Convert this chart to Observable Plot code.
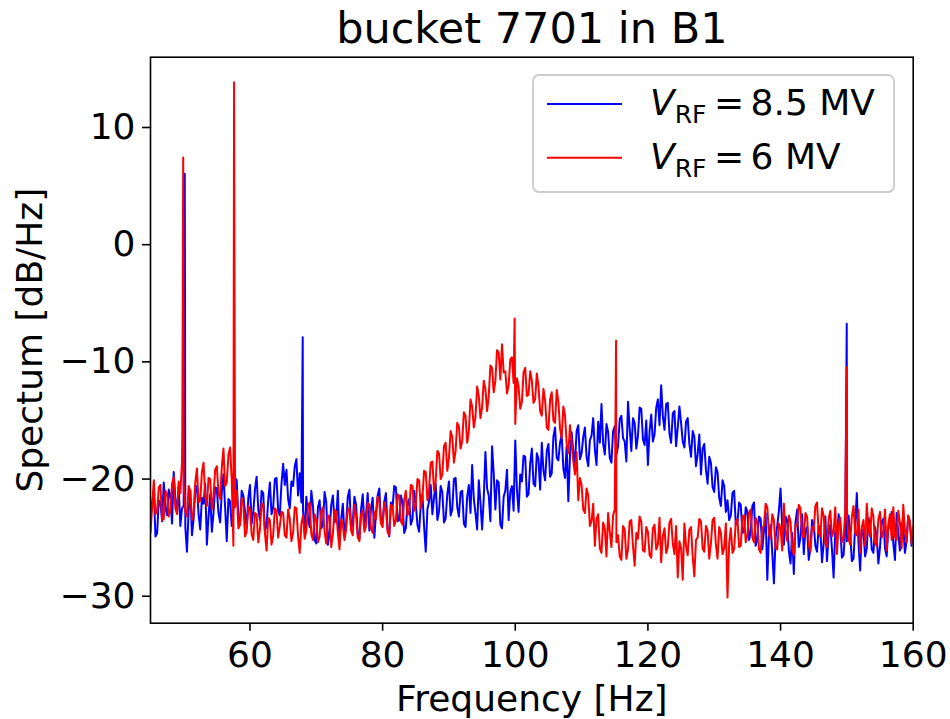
<!DOCTYPE html>
<html>
<head>
<meta charset="utf-8">
<script src="https://cdn.jsdelivr.net/npm/d3@7"></script>
<script src="https://cdn.jsdelivr.net/npm/@observablehq/plot@0.6"></script>
<style>
  html, body { margin: 0; padding: 0; background: white; }
  #chart { width: 950px; height: 719px; }
</style>
</head>
<body>
<div id="chart"></div>
<script>
// ---- data ----
const titleText = "bucket 7701 in B1";
const xLabel = "Frequency [Hz]";
const yLabel = "Spectum [dB/Hz]";
const xTicks = [60, 80, 100, 120, 140, 160];
const yTicks = [-30, -20, -10, 0, 10];
const seriesValues = ["8.5 MV", "6 MV"];
const seriesColors = ["#0000ff", "#ff0000"];

// spectrum bins: 45 Hz .. 160 Hz every 0.25 Hz (each row = 5 Hz)
const freqStart = 45;
const freqStep = 0.25;

// V_RF = 8.5 MV
const blueDb = [
  -23.5, -22.0, -21.2, -24.9, -24.6, -21.8, -22.0, -23.6, -20.3, -22.4, -23.1, -20.9, -21.5, -23.8, -19.4, -21.7, -22.8, -20.6, -24.0, -22.5,
  -22.3, -24.1, -26.2, -22.7, -21.0, -24.8, -23.4, -20.9, -20.6, -23.0, -24.3, -21.6, -22.1, -20.4, -25.6, -23.2, -21.3, -24.5, -22.9, -20.7,
  -20.8, -22.9, -23.7, -21.1, -19.6, -22.4, -25.3, -21.7, -21.9, -24.0, -22.6, -19.9, -20.1, -23.3, -23.9, -21.0, -21.4, -22.8, -24.2, -21.6,
  -20.5, -23.8, -22.8, -20.9, -19.8, -22.6, -23.5, -21.0, -21.2, -24.4, -24.0, -21.8, -20.3, -23.0, -22.4, -20.0, -19.9, -22.7, -23.1, -20.4,
  -18.7, -20.5, -19.2, -21.7, -22.5, -20.2, -20.6, -18.9, -18.3, -21.4, -19.5, -22.0, -22.7, -24.6, -21.5, -23.3, -24.1, -21.0, -22.3, -25.2,
  -25.5, -22.4, -21.8, -24.2, -23.9, -21.1, -22.0, -25.6, -24.6, -22.2, -21.4, -23.7, -23.3, -21.0, -25.4, -23.5, -22.1, -24.8, -23.8, -21.5,
  -20.9, -24.3, -23.6, -21.5, -22.2, -24.7, -25.1, -22.6, -21.3, -23.9, -23.0, -21.2, -24.4, -22.5, -21.6, -25.0, -22.9, -21.4, -20.8, -23.7,
  -23.7, -21.9, -21.2, -24.3, -24.9, -22.0, -22.4, -20.6, -20.7, -23.6, -23.5, -21.4, -22.0, -24.6, -24.2, -22.1, -21.7, -23.9, -23.4, -21.0,
  -22.1, -23.9, -24.5, -22.2, -21.3, -24.0, -26.2, -22.6, -21.9, -20.5, -23.0, -21.6, -20.4, -23.5, -22.8, -20.6, -21.1, -23.7, -23.4, -21.3,
  -20.2, -23.1, -22.6, -20.0, -19.9, -22.4, -23.2, -21.1, -21.0, -23.8, -24.1, -21.5, -20.5, -22.9, -18.8, -21.7, -22.9, -24.3, -20.1, -22.0,
  -24.3, -21.6, -17.7, -20.8, -21.4, -23.6, -17.2, -19.5, -22.6, -20.1, -20.3, -23.9, -24.2, -21.5, -21.0, -19.2, -23.5, -21.1, -20.6, -22.7,
  -16.7, -20.9, -22.8, -19.6, -20.2, -18.0, -18.1, -21.5, -21.3, -18.7, -17.4, -20.4, -20.6, -17.8, -18.3, -20.9, -16.9, -19.3, -20.1, -17.6,
  -17.0, -19.8, -19.5, -16.4, -15.6, -18.2, -18.4, -16.9, -16.2, -19.1, -19.9, -17.2, -21.9, -18.0, -16.0, -17.7, -18.6, -15.9, -15.4, -18.3,
  -17.8, -16.4, -15.6, -18.1, -18.9, -16.7, -16.3, -14.8, -17.5, -18.8, -15.1, -16.9, -13.6, -17.0, -17.9, -15.3, -16.0, -18.2, -18.6, -15.9,
  -15.5, -17.9, -17.2, -14.9, -14.6, -16.5, -16.8, -18.5, -13.4, -15.7, -17.6, -14.8, -15.2, -17.4, -16.3, -13.9, -14.0, -16.6, -17.1, -15.0,
  -18.8, -15.9, -14.5, -16.8, -16.2, -13.9, -13.2, -15.4, -12.0, -14.6, -15.8, -13.6, -13.5, -16.1, -16.9, -14.4, -14.2, -17.2, -15.6, -13.8,
  -15.2, -16.8, -17.3, -15.1, -14.8, -17.0, -18.1, -15.9, -16.4, -18.9, -17.9, -16.2, -19.6, -17.4, -17.0, -19.2, -20.4, -18.1, -18.6, -20.7,
  -21.1, -19.0, -19.4, -21.6, -22.3, -20.1, -20.6, -22.8, -21.8, -23.5, -23.1, -21.2, -21.0, -23.9, -23.7, -22.0, -22.2, -24.6, -24.5, -22.4,
  -22.8, -25.2, -24.5, -22.3, -22.0, -25.7, -25.1, -23.2, -23.4, -26.0, -24.4, -22.9, -28.6, -24.8, -23.9, -26.3, -28.9, -25.0, -24.0, -22.7,
  -20.8, -24.1, -25.6, -23.2, -23.5, -26.1, -27.2, -24.6, -28.1, -23.7, -22.6, -25.8, -25.0, -23.0, -26.4, -24.3, -24.1, -26.9, -25.9, -23.5,
  -23.8, -25.7, -26.2, -24.0, -24.3, -27.1, -25.5, -23.2, -27.0, -24.7, -23.9, -26.0, -28.4, -24.4, -25.1, -23.0, -24.0, -26.7, -26.5, -24.2,
  -25.3, -23.1, -24.6, -27.0, -26.8, -24.0, -21.2, -25.4, -27.8, -24.3, -24.5, -26.6, -25.9, -23.3, -23.7, -26.0, -26.3, -24.1, -24.9, -27.2,
  -25.8, -23.6, -23.4, -25.9, -26.6, -24.1, -24.2, -22.8, -25.5, -26.9, -22.9, -24.7, -26.1, -23.8, -24.0, -26.3, -25.3, -23.2, -23.6, -25.7,
  -25.0
];

// V_RF = 6 MV
const redDb = [
  -24.6, -22.3, -20.1, -23.0, -22.8, -20.7, -20.5, -23.5, -23.4, -21.0, -21.3, -23.2, -22.6, -20.4, -19.8, -22.5, -23.0, -20.2, -21.2, -18.5,
  -20.4, -22.8, -23.2, -20.6, -21.0, -23.5, -22.9, -20.3, -19.1, -22.0, -21.8, -19.4, -18.6, -21.5, -22.3, -19.9, -20.0, -22.6, -21.5, -19.2,
  -18.9, -21.2, -21.7, -19.0, -17.4, -20.6, -20.3, -17.9, -17.3, -20.1, -25.7, -22.4, -21.0, -24.2, -23.9, -21.6, -22.1, -24.9, -24.5, -22.3,
  -22.6, -24.7, -25.2, -22.9, -23.0, -25.4, -24.3, -22.1, -22.2, -24.6, -26.1, -23.3, -23.5, -25.6, -24.8, -22.5, -22.7, -25.0, -24.0, -22.8,
  -22.9, -24.8, -25.0, -22.6, -23.4, -25.3, -24.6, -22.4, -22.5, -24.9, -26.3, -23.8, -23.1, -25.1, -24.4, -22.3, -22.0, -24.7, -25.2, -23.0,
  -23.6, -25.4, -24.9, -22.7, -22.4, -24.5, -25.5, -23.1, -23.2, -25.8, -24.7, -22.6, -22.8, -24.6, -26.0, -23.4, -23.9, -25.2, -24.3, -22.5,
  -22.5, -24.4, -24.8, -22.2, -23.1, -25.0, -25.3, -23.0, -22.7, -24.5, -24.0, -22.0, -22.2, -24.2, -24.6, -22.8, -23.4, -21.5, -21.9, -23.8,
  -24.1, -22.0, -22.6, -24.5, -24.8, -22.2, -22.3, -24.0, -23.5, -21.3, -21.4, -23.6, -23.9, -21.8, -21.0, -23.1, -22.8, -20.5, -20.6, -22.7,
  -22.3, -20.0, -20.1, -22.5, -21.6, -19.3, -19.4, -21.8, -20.9, -18.6, -18.5, -21.0, -20.2, -17.6, -17.8, -20.0, -19.6, -17.2, -16.9, -19.3,
  -18.2, -15.9, -16.4, -18.6, -17.6, -15.2, -15.5, -17.4, -16.8, -14.3, -14.6, -16.9, -15.9, -13.2, -13.8, -15.6, -14.7, -12.1, -12.9, -14.8,
  -13.9, -11.6, -12.3, -14.2, -12.9, -10.3, -10.5, -12.6, -11.6, -9.0, -9.2, -11.5, -8.5, -10.9, -10.8, -12.7, -12.0, -9.8, -9.6, -11.8,
  -15.3, -11.4, -12.1, -14.0, -13.4, -10.9, -10.5, -12.9, -12.8, -10.8, -11.6, -13.5, -13.2, -11.0, -12.1, -14.2, -14.6, -12.3, -13.3, -15.6,
  -15.8, -13.2, -12.6, -15.0, -15.2, -12.4, -13.4, -15.7, -16.5, -13.8, -14.6, -17.0, -17.8, -15.4, -16.9, -18.5, -19.6, -17.7, -21.8, -19.9,
  -20.5, -22.6, -22.9, -20.8, -21.4, -24.0, -23.6, -22.1, -25.7, -23.4, -23.0, -25.9, -26.3, -23.7, -24.2, -26.6, -22.9, -24.5, -25.8, -23.1,
  -22.6, -25.4, -24.8, -26.6, -26.9, -24.0, -24.3, -26.8, -26.0, -23.6, -23.5, -25.7, -27.4, -24.6, -25.1, -23.2, -23.6, -26.1, -26.2, -24.1,
  -24.5, -26.5, -26.7, -24.2, -23.9, -26.0, -25.6, -23.3, -27.1, -24.9, -24.2, -26.3, -25.8, -23.7, -23.4, -25.5, -26.4, -24.0, -28.4, -25.3,
  -25.9, -28.6, -23.8, -25.7, -26.5, -24.3, -24.1, -26.6, -28.3, -25.2, -25.0, -23.4, -23.6, -25.9, -26.2, -24.0, -24.4, -26.8, -25.5, -23.5,
  -23.3, -25.6, -26.8, -24.1, -24.6, -26.4, -25.9, -23.8, -30.1, -25.5, -24.2, -26.3, -26.0, -23.6, -23.4, -25.8, -25.7, -23.2, -23.1, -25.4,
  -24.8, -22.9, -22.6, -25.0, -25.4, -23.3, -23.7, -26.0, -26.3, -24.2, -24.0, -22.1, -22.4, -24.7, -25.1, -23.0, -23.5, -25.9, -26.0, -23.8,
  -24.2, -26.1, -22.1, -24.4, -25.3, -23.1, -23.6, -25.9, -26.5, -23.9, -24.0, -22.2, -22.5, -24.8, -25.0, -22.9, -23.2, -25.6, -26.2, -24.1,
  -24.4, -22.3, -22.0, -24.6, -24.9, -22.5, -23.1, -25.5, -25.8, -23.4, -22.7, -24.9, -24.5, -22.4, -26.4, -24.0, -23.3, -25.4, -25.1, -22.8,
  -23.0, -25.1, -25.6, -23.2, -22.3, -24.6, -24.8, -22.6, -26.3, -24.1, -23.5, -25.7, -22.1, -24.3, -24.9, -22.5, -23.2, -25.5, -25.7, -23.4,
  -22.8, -25.0, -24.5, -22.6, -26.1, -23.8, -23.0, -25.2, -22.4, -24.9, -25.2, -22.7, -23.7, -25.9, -22.2, -24.3, -25.4, -23.1, -23.6, -25.5,
  -24.0
];

// narrow spectral lines (frequency in Hz, level in dB/Hz)
const blueSpikeHz = [50.17, 67.95, 149.98];
const blueSpikeDb = [6.05, -7.9, -6.75];
const redSpikeHz = [49.8, 49.93, 57.6, 99.9, 115.2, 149.98];
const redSpikeDb = [-15.6, 7.45, 13.87, -6.3, -8.2, -10.45];

// ---- build tables ----
function buildSeries(vals, spikeHz, spikeDb) {
  const rows = vals.map((v, i) => ({f: freqStart + i * freqStep, v}));
  spikeHz.forEach((f, i) => rows.push({f, v: spikeDb[i]}));
  rows.sort((a, b) => a.f - b.f);
  return rows;
}
const blueRows = buildSeries(blueDb, blueSpikeHz, blueSpikeDb);
const redRows = buildSeries(redDb, redSpikeHz, redSpikeDb);

const W = 950, H = 719;
const mL = 150, mR = 37.3, mT = 56.7, mB = 96.3;

const plot = Plot.plot({
  width: W,
  height: H,
  marginLeft: mL,
  marginRight: mR,
  marginTop: mT,
  marginBottom: mB,
  style: {fontFamily: "DejaVu Sans", fontSize: "36px", background: "white", color: "black", overflow: "visible"},
  x: {domain: [45, 160]},
  y: {domain: [-32.3, 16.0]},
  marks: [
    Plot.line(blueRows, {x: "f", y: "v", stroke: seriesColors[0], strokeWidth: 2, clip: true}),
    Plot.line(redRows, {x: "f", y: "v", stroke: seriesColors[1], strokeWidth: 2, clip: true}),
    Plot.frame({stroke: "black", strokeWidth: 1.6}),
    Plot.axisX({ticks: xTicks, tickSize: 8, tickPadding: 10, fontSize: 36, label: null, strokeWidth: 1.6}),
    Plot.axisY({ticks: yTicks, tickSize: 8, tickPadding: 7, fontSize: 36, label: null, strokeWidth: 1.6}),
    Plot.text([titleText], {frameAnchor: "top", textAnchor: "middle", lineAnchor: "middle", dy: -27.8, fontSize: 43, fill: "black"}),
    Plot.text([xLabel], {frameAnchor: "bottom", textAnchor: "middle", lineAnchor: "middle", dy: 76.3, fontSize: 36, fill: "black"}),
    Plot.text([yLabel], {frameAnchor: "left", textAnchor: "middle", lineAnchor: "middle", dx: -119.8, rotate: -90, fontSize: 36, fill: "black"})
  ]
});

// ---- legend (drawn into the same SVG) ----
const svg = d3.select(plot);
const lg = svg.append("g").attr("font-family", "DejaVu Sans").attr("text-anchor", "start");
lg.append("rect")
  .attr("x", 533).attr("y", 75).attr("width", 361).attr("height", 117)
  .attr("rx", 6).attr("ry", 6)
  .attr("fill", "white").attr("fill-opacity", 0.8)
  .attr("stroke", "#cccccc").attr("stroke-width", 1.8);
seriesValues.forEach((val, i) => {
  const base = 115 + i * 54;
  const ly = 104 + i * 53.7;
  lg.append("line")
    .attr("x1", 547).attr("x2", 622).attr("y1", ly).attr("y2", ly)
    .attr("stroke", seriesColors[i]).attr("stroke-width", 2);
  const t = lg.append("text").attr("x", 650).attr("y", base).attr("font-size", 36).attr("fill", "black").attr("text-anchor", "start");
  t.append("tspan").attr("font-style", "italic").text("V");
  t.append("tspan").attr("font-size", 25).attr("dy", 8.3).text("RF");
  t.append("tspan").attr("x", 714).attr("dy", -8.3).text("=");
  t.append("tspan").attr("x", 750.6).text(val);
});

document.getElementById("chart").appendChild(plot);
</script>
</body>
</html>
